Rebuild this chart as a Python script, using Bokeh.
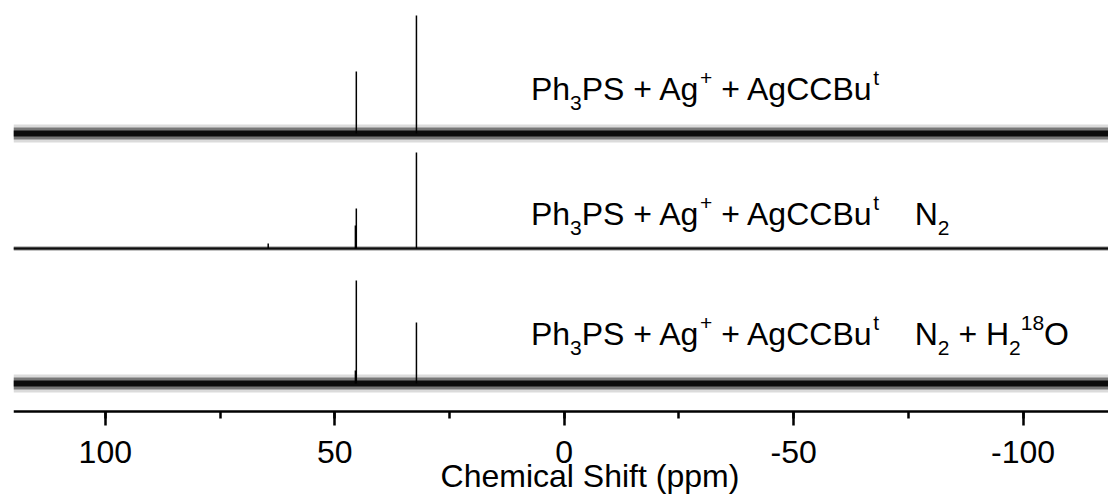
from bokeh.plotting import figure
from bokeh.models import Range1d, SingleIntervalTicker, PrintfTickFormatter
from bokeh.embed import file_html
from bokeh.resources import INLINE
from bokeh.core.properties import value

# ---------------- data ----------------
x_start, x_end = 120.0, -118.6          # ppm, reversed axis
tick_interval = 50
axis_title = "Chemical Shift (ppm)"

# baseline offsets of the three stacked spectra (a.u.)
offsets = [278, 163, 28]

# peaks: chemical shift (ppm) and intensity above baseline (a.u.)
peak_ppm_1 = [45.3, 32.2]
peak_int_1 = [62, 118]
peak_ppm_2 = [64.5, 45.5, 45.3, 32.2]
peak_int_2 = [5, 23, 40, 96]
peak_ppm_3 = [45.5, 45.3, 32.2]
peak_int_3 = [13, 103, 61]

# baseline noise half-amplitude (core / spikes / rare spikes), a.u.
noise_core = [3.0, 0.9, 3.0]
noise_spike = [6.0, 1.8, 6.0]
noise_rare = [9.0, 2.6, 9.0]

# label pieces: (text, kind) with kind n = normal, sub, sup
label_1 = [("Ph", "n"), ("3", "sub"), ("PS + Ag", "n"), ("+", "sup"),
           (" + AgCCBu", "n"), ("t", "sup")]
label_2 = label_1 + [("    N", "n"), ("2", "sub")]
label_3 = label_1 + [("    N", "n"), ("2", "sub"), (" + H", "n"), ("2", "sub"),
                     ("18", "sup"), ("O", "n")]

peaks_ppm = [peak_ppm_1, peak_ppm_2, peak_ppm_3]
peaks_int = [peak_int_1, peak_int_2, peak_int_3]
labels = [label_1, label_2, label_3]

# ---------------- figure ----------------
FONT = "Liberation Sans"
p = figure(width=1108, height=494,
           x_range=Range1d(x_start, x_end), y_range=Range1d(-83, 411),
           output_backend="svg", toolbar_location=None,
           y_axis_location=None,
           min_border_left=13, min_border_right=0,
           min_border_top=0, min_border_bottom=0)
p.xgrid.visible = False
p.ygrid.visible = False
p.outline_line_color = None
p.background_fill_color = "white"
p.border_fill_color = "white"

ax = p.xaxis[0]
ax.fixed_location = 0
ax.ticker = SingleIntervalTicker(interval=tick_interval, num_minor_ticks=2)
ax.formatter = PrintfTickFormatter(format="%d")
ax.axis_line_width = 2.5
ax.axis_line_color = "black"
ax.major_tick_line_width = 2.5
ax.major_tick_line_color = "black"
ax.minor_tick_line_width = 2.5
ax.minor_tick_line_color = "black"
ax.major_tick_in = 0
ax.major_tick_out = 14
ax.minor_tick_in = 0
ax.minor_tick_out = 7
ax.major_label_text_font = FONT
ax.major_label_text_font_size = "32px"
ax.major_label_text_color = "black"
ax.major_label_standoff = 15

# noise bands and peaks
for off, nc, ns, nr, pp, pi in zip(offsets, noise_core, noise_spike, noise_rare,
                                   peaks_ppm, peaks_int):
    p.quad(left=[x_start], right=[x_end], bottom=[off - nr], top=[off + nr],
           fill_color="#000000", fill_alpha=0.14, line_color=None)
    p.quad(left=[x_start], right=[x_end], bottom=[off - ns], top=[off + ns],
           fill_color="#000000", fill_alpha=0.45, line_color=None)
    p.quad(left=[x_start], right=[x_end], bottom=[off - nc], top=[off + nc],
           fill_color="#000000", fill_alpha=0.9, line_color=None)
    p.segment(x0=pp, y0=[off] * len(pp), x1=pp, y1=[off + v for v in pi],
              line_color="black", line_width=1.5)

# rich-text labels built from pieces
ADV = {" ": 278, "+": 584, "P": 667, "h": 556, "S": 667, "A": 667, "g": 556,
       "C": 722, "B": 667, "u": 556, "t": 278, "N": 722, "H": 722, "O": 778}
for d in "0123456789":
    ADV[d] = 556


def adv(s, size):
    return sum(ADV[c] for c in s) / 1000.0 * size


MAIN, SMALL = 32, 21
SUB_DY, SUP_DY = 14, -11


def draw_label(x_ppm, y_val, pieces):
    xo = 0.0
    for txt, kind in pieces:
        size = MAIN if kind == "n" else SMALL
        lead = len(txt) - len(txt.lstrip(" "))
        shown = txt.strip(" ")
        x_here = xo + adv(" " * lead, size)
        dy = SUB_DY if kind == "sub" else (SUP_DY if kind == "sup" else 0)
        p.text(x=[x_ppm], y=[y_val], text=[shown], x_offset=x_here, y_offset=dy,
               text_font=value(FONT), text_font_size=f"{size}px",
               text_color="black", text_align="left", text_baseline="alphabetic")
        xo += adv(txt, size)


label_x = 7.25
label_y = [323, 198, 78]
for ly, lab in zip(label_y, labels):
    draw_label(label_x, ly, lab)

p.text(x=[-5.6], y=[-64], text=[axis_title], text_font=value(FONT),
       text_font_size="32px", text_color="black",
       text_align="center", text_baseline="alphabetic")

open("out.html", "w").write(file_html(p, INLINE))
